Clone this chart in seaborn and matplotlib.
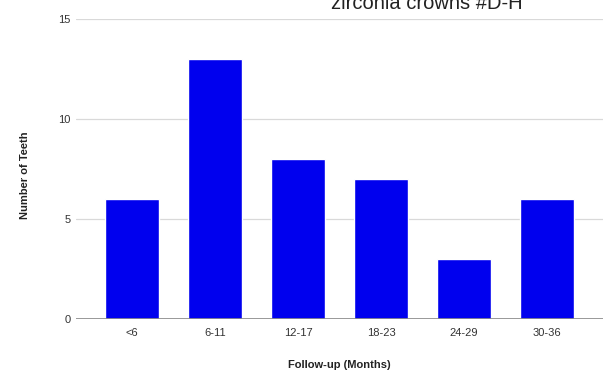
import matplotlib
matplotlib.use("Agg")
import matplotlib.pyplot as plt
import seaborn as sns
import pandas as pd

# === Data ===
categories = ['<6', '6-11', '12-17', '18-23', '24-29', '30-36']
teeth = [6, 13, 8, 7, 3, 6]

df = pd.DataFrame({'Follow-up (Months)': categories, 'Number of Teeth': teeth})

sns.set_style("white")
plt.rcParams['font.family'] = ['Liberation Sans', 'DejaVu Sans']

fig = plt.figure(figsize=(6.03, 3.75), dpi=100)
ax = fig.add_axes([0.126, 0.1493, 0.874, 0.8])

sns.barplot(data=df, x='Follow-up (Months)', y='Number of Teeth', color='#0000EE',
            saturation=1, width=0.65, ax=ax, zorder=3)

ax.set_ylim(0, 15)
ax.set_yticks([0, 5, 10, 15])
ax.set_xlim(-0.674, len(categories) - 1 + 0.674)
ax.yaxis.grid(True, color='#d9d9d9', linewidth=0.9, zorder=0)
ax.axhline(0, color='#888888', linewidth=1.2, zorder=4)
for s in ax.spines.values():
    s.set_visible(False)
ax.tick_params(axis='both', length=0, labelsize=8, colors='#333333')
ax.tick_params(axis='x', pad=6.5)
ax.tick_params(axis='y', pad=4)

ax.set_xlabel('Follow-up (Months)', fontsize=8, fontweight='bold', color='#222222')
ax.set_ylabel('Number of Teeth', fontsize=8, fontweight='bold', color='#222222')
ax.xaxis.set_label_coords(0.5, -46 / 300, transform=ax.transAxes)
ax.yaxis.set_label_coords(-0.097, 0.48, transform=ax.transAxes)
ax.xaxis.label.set_verticalalignment('center')
ax.yaxis.label.set_verticalalignment('center')

# title is cut off at the top of the picture
fig.text(0.707, 1 - 9 / 375, 'zirconia crowns #D-H', ha='center', va='baseline',
         fontsize=14.5, color='#222222')

fig.savefig('out.png', dpi=100)
